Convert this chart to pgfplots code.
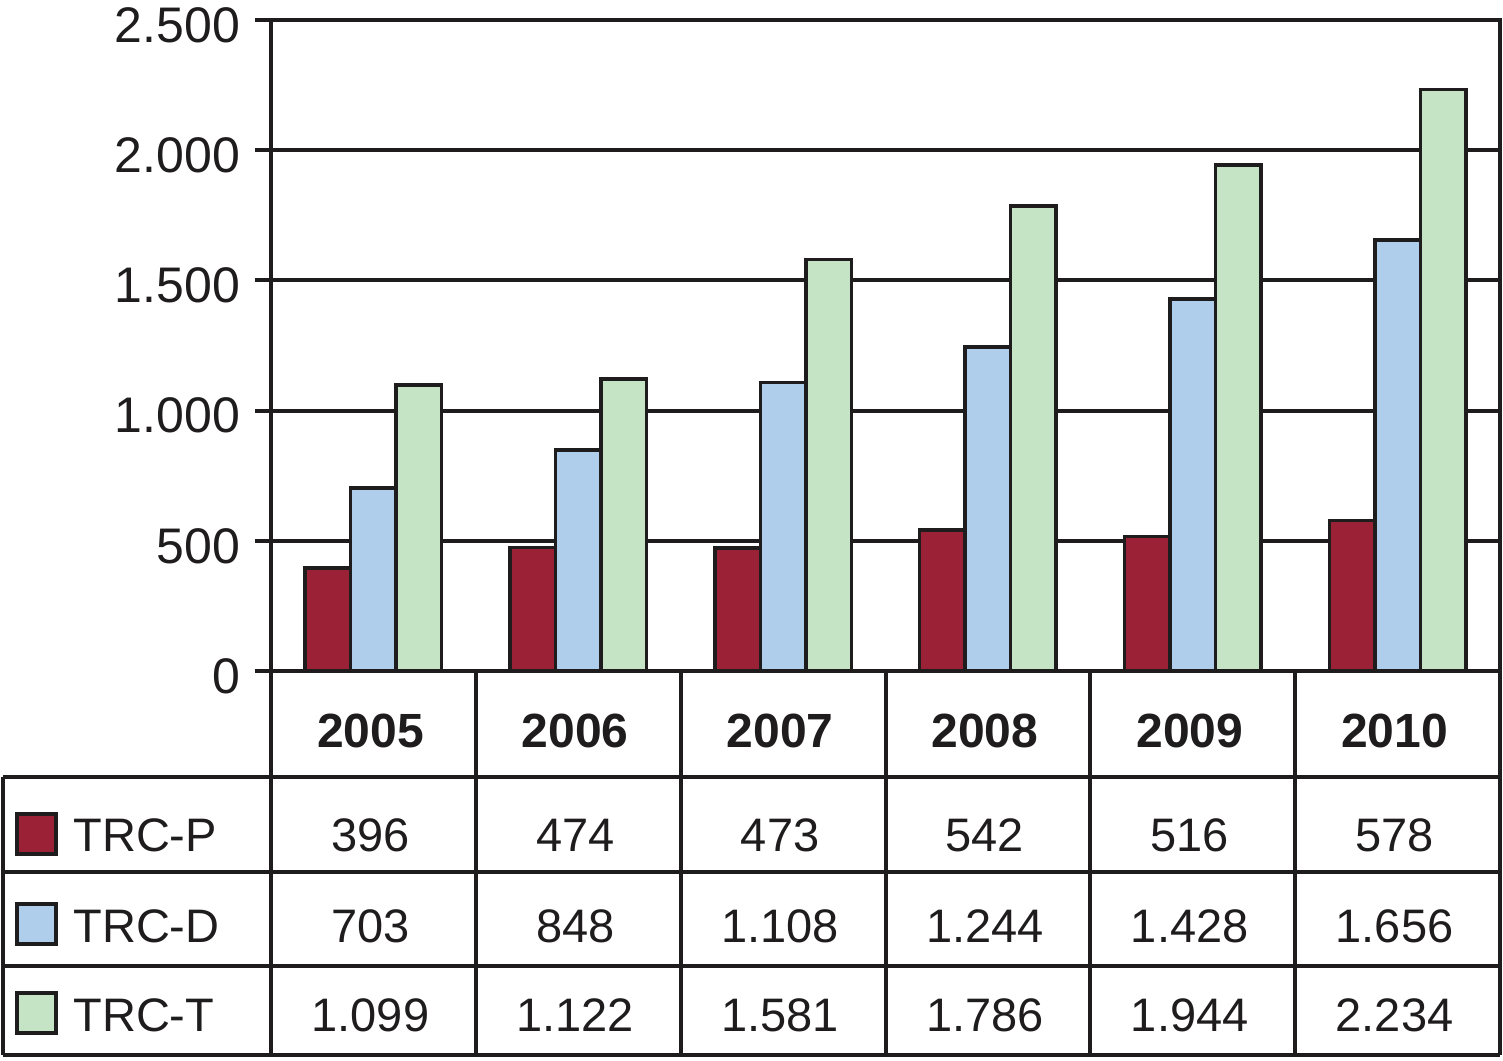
\documentclass[border=0pt]{standalone}
\usepackage{fontspec}
\setmainfont{Liberation Sans}
\usepackage{pgfplots}
\usepackage{pgfplotstable}
\pgfplotsset{compat=1.18}
\definecolor{trcp}{RGB}{155,33,55}
\definecolor{trcd}{RGB}{174,206,236}
\definecolor{trct}{RGB}{197,227,197}
\definecolor{ink}{RGB}{30,28,28}
\pgfplotstableread{
x P D T
0 396 703 1099
1 474 848 1122
2 473 1108 1581
3 542 1244 1786
4 516 1428 1944
5 578 1656 2234
}\datatable
\begin{document}
\begin{tikzpicture}
\useasboundingbox (-135.5pt,-194.5pt) rectangle (616pt,335.5pt);
\begin{axis}[
  at={(0,0)}, anchor=south west,
  scale only axis, width=614.5pt, height=325.5pt,
  xmin=-0.5, xmax=5.5, ymin=0, ymax=2500,
  ytick={0,500,1000,1500,2000,2500},
  xtick=\empty, ytick pos=left,
  tick align=outside, major tick length=8pt,
  ymajorgrids,
  grid style={ink, line width=2pt},
  axis line style={ink, line width=2pt},
  major tick style={ink, line width=2pt},
  scaled y ticks=false,
  /pgf/number format/assume math mode=true,
  yticklabel style={font=\fontsize{25}{29}\selectfont, /pgf/number format/1000 sep={.}, text=ink, xshift=-4pt, yshift=-2.5pt},
  ybar, bar width=0.222,
]
\addplot[fill=trcp, draw=ink, line width=1.75pt, bar shift=-0.222] table[x=x, y=P] {\datatable};
\addplot[fill=trcd, draw=ink, line width=1.75pt, bar shift=0] table[x=x, y=D] {\datatable};
\addplot[fill=trct, draw=ink, line width=1.75pt, bar shift=0.222] table[x=x, y=T] {\datatable};
\end{axis}
% data table grid
\begin{scope}[ink, line width=2pt]
  \draw (0,0) -- (0,-192pt);
  \draw (614.5pt,0) -- (614.5pt,-192pt);
  \foreach \k in {1,...,5} \draw (\k*102.4167pt,0) -- (\k*102.4167pt,-192pt);
  \draw (-134pt,-53pt) -- (614.5pt,-53pt);
  \draw (-134pt,-100.5pt) -- (614.5pt,-100.5pt);
  \draw (-134pt,-147.5pt) -- (614.5pt,-147.5pt);
  \draw (-134pt,-192pt) -- (614.5pt,-192pt);
  \draw (-134pt,-53pt) -- (-134pt,-192pt);
\end{scope}
% legend keys
\begin{scope}[draw=ink, line width=1.6pt]
  \filldraw[fill=trcp] (-127pt,-71.5pt) rectangle (-107.5pt,-91.5pt);
  \filldraw[fill=trcd] (-127pt,-116.5pt) rectangle (-107.5pt,-136.5pt);
  \filldraw[fill=trct] (-127pt,-161pt) rectangle (-107.5pt,-181pt);
\end{scope}
\begin{scope}[every node/.style={font=\fontsize{23.5}{28}\selectfont, text=ink, inner sep=0pt}]
  \node[anchor=base west] at (-99pt,-90pt) {TRC-P};
  \node[anchor=base west] at (-99pt,-135.5pt) {TRC-D};
  \node[anchor=base west] at (-99pt,-180pt) {TRC-T};
  \foreach \y [count=\i from 0] in {2005,2006,2007,2008,2009,2010}
    \node[anchor=base, font=\fontsize{24}{28}\selectfont\bfseries] at ({(\i+0.5)*102.4167pt-1.5pt},-38pt) {\y};
  \foreach \v [count=\i from 0] in {396,474,473,542,516,578}
    \node[anchor=base] at ({(\i+0.5)*102.4167pt-1.5pt},-90pt) {\v};
  \foreach \v [count=\i from 0] in {703,848,1.108,1.244,1.428,1.656}
    \node[anchor=base] at ({(\i+0.5)*102.4167pt-1.5pt},-135.5pt) {\v};
  \foreach \v [count=\i from 0] in {1.099,1.122,1.581,1.786,1.944,2.234}
    \node[anchor=base] at ({(\i+0.5)*102.4167pt-1.5pt},-180pt) {\v};
\end{scope}
\end{tikzpicture}
\end{document}
